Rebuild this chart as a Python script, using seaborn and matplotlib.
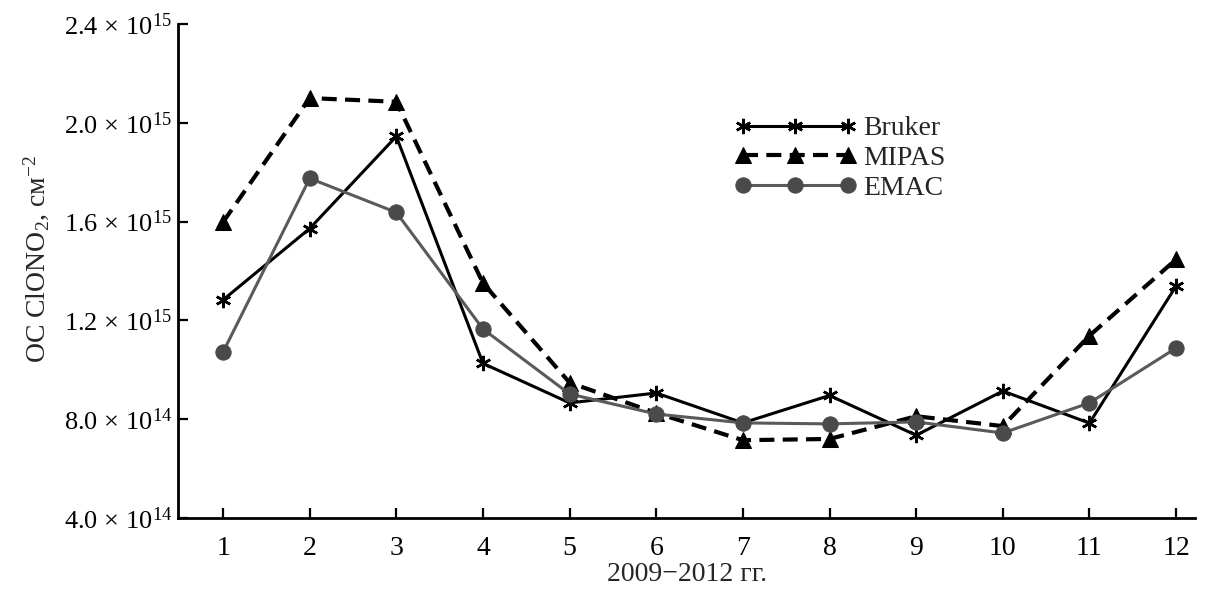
import matplotlib
matplotlib.use("Agg")
import matplotlib.pyplot as plt
import seaborn as sns
import pandas as pd
from matplotlib.ticker import FixedLocator, FuncFormatter

months = [1, 2, 3, 4, 5, 6, 7, 8, 9, 10, 11, 12]
bruker = [1.283e15, 1.572e15, 1.945e15, 1.026e15, 0.866e15, 0.906e15,
          0.785e15, 0.896e15, 0.735e15, 0.914e15, 0.784e15, 1.339e15]
mipas = [1.598e15, 2.100e15, 2.085e15, 1.351e15, 0.948e15, 0.825e15,
         0.715e15, 0.720e15, 0.812e15, 0.772e15, 1.138e15, 1.447e15]
emac = [1.072e15, 1.775e15, 1.637e15, 1.165e15, 0.902e15, 0.821e15,
        0.785e15, 0.781e15, 0.789e15, 0.744e15, 0.866e15, 1.088e15]
y_ticks = [4.0e14, 8.0e14, 1.2e15, 1.6e15, 2.0e15, 2.4e15]

sns.set_style("ticks")
plt.rcParams["font.family"] = ["Liberation Serif", "DejaVu Serif"]
plt.rcParams["mathtext.fontset"] = "custom"
plt.rcParams["mathtext.rm"] = "Liberation Serif"
plt.rcParams["mathtext.it"] = "Liberation Serif:italic"
plt.rcParams["mathtext.bf"] = "Liberation Serif:bold"

FS = 20

df = pd.DataFrame({"month": months, "Bruker": bruker, "MIPAS": mipas, "EMAC": emac})

fig = plt.figure(figsize=(12.06, 5.92), dpi=100)
ax = fig.add_axes([0.1476, 0.125, 0.991 - 0.1476, 0.9595 - 0.125])

sns.lineplot(data=df, x="month", y="Bruker", ax=ax, color="black", lw=2.2,
             marker=(6, 2, 0), markersize=11, markeredgewidth=1.8,
             markeredgecolor="black", label="Bruker", errorbar=None)
sns.lineplot(data=df, x="month", y="MIPAS", ax=ax, color="black", lw=3.0,
             marker="^", markersize=11, markeredgecolor="black",
             label="MIPAS", errorbar=None)
sns.lineplot(data=df, x="month", y="EMAC", ax=ax, color="#5a5a5a", lw=2.2,
             marker="o", markersize=11, markerfacecolor="#4a4a4a",
             markeredgecolor="#4a4a4a", label="EMAC", errorbar=None)

lines = ax.get_lines()
lines[1].set_linestyle((0, (3.6, 2.0)))

ax.set_xlim(0.48, 12.22)
ax.set_ylim(4.0e14, 2.4e15)
ax.xaxis.set_major_locator(FixedLocator(months))
ax.yaxis.set_major_locator(FixedLocator(y_ticks))


def fmt(v, pos):
    exp = 14 if v < 1e15 else 15
    m = v / 10 ** exp
    return r"$%.1f\,\times\,10^{%d}$" % (m, exp)


ax.yaxis.set_major_formatter(FuncFormatter(fmt))

for s in ["top", "right"]:
    ax.spines[s].set_visible(False)
for s in ["left", "bottom"]:
    ax.spines[s].set_linewidth(2.0)
    ax.spines[s].set_color("black")

ax.tick_params(axis="both", direction="in", length=7, width=1.6,
               colors="black")
ax.tick_params(axis="y", pad=4, labelsize=19)
ax.tick_params(axis="x", pad=13, labelsize=FS)

ax.set_xlabel("2009\u22122012 гг.", fontsize=FS, labelpad=1)
ax.set_ylabel("ОС ClONO$_2$, см$^{-2}$", fontsize=FS, labelpad=9)
ax.yaxis.label.set_y(0.524)

ax.legend(loc="upper left", bbox_to_anchor=(0.547, 0.814), frameon=False,
          numpoints=3, handlelength=4.4, handletextpad=0.25,
          labelspacing=0.15, borderpad=0, borderaxespad=0, fontsize=FS)

fig.savefig("out.png", dpi=100)
